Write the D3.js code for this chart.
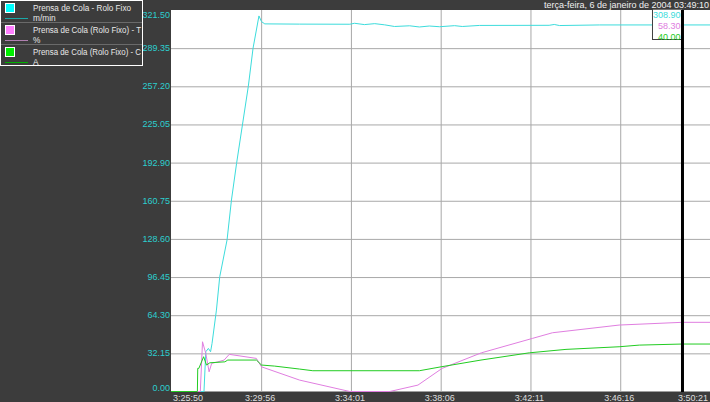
<!DOCTYPE html>
<html lang="pt">
<head>
<meta charset="UTF-8">
<title>Prensa de Cola</title>
<script src="https://d3js.org/d3.v7.min.js"></script>
<style>
    body { margin: 0; background: #3c3c3c; }
    text { font-family: "Liberation Sans", Arial, sans-serif; font-size: 9px; }
    .legend text { font-size: 8.3px; }
    .grid line { stroke: #a8a8a8; }
    .grid path { display: none; }
</style>
</head>
<body>
<script>
    const width  = 710;
    const height = 402;

    const start = "3:25:50";
    const end = "3:50:21";
    const cursorTime = "3:49:10";
    const dateLabel = "terça-feira, 6 de janeiro de 2004  03:49:10";

    const yTicks = [0, 32.15, 64.30, 96.45, 128.60, 160.75, 192.90, 225.05, 257.20, 289.35, 321.50];
    const xTicks = ["3:25:50", "3:29:56", "3:34:01", "3:38:06", "3:42:11", "3:46:16", "3:50:21"];

    const names = ["Prensa de Cola - Rolo Fixo", "Prensa de Cola (Rolo Fixo) - T", "Prensa de Cola (Rolo Fixo) - C"];
    const units = ["m/min", "%", "A"];
    const cursorValues = [308.90, 58.30, 40.00];

    const speed = [
        ["3:25:50", 0], ["3:27:20", 0], ["3:27:25", 33.5], ["3:27:32", 36.3], ["3:27:38", 33.5],
        ["3:27:42", 40.5], ["3:27:54", 68.6], ["3:28:03", 96.7], ["3:28:23", 127.7], ["3:28:35", 161.4],
        ["3:28:49", 192.3], ["3:29:07", 228.8], ["3:29:21", 257.2], ["3:29:34", 289.4], ["3:29:50", 316.5],
        ["3:29:57", 311.7], ["3:30:06", 309.8], ["3:31:41", 309.6], ["3:33:58", 309.5], ["3:34:11", 310.3],
        ["3:34:38", 309.2], ["3:35:06", 310.0], ["3:35:33", 309.0], ["3:36:00", 307.6], ["3:36:41", 308.2],
        ["3:37:08", 307.2], ["3:37:35", 308.0], ["3:38:03", 307.4], ["3:38:44", 308.3], ["3:39:05", 307.6],
        ["3:39:52", 308.5], ["3:43:02", 308.6], ["3:43:16", 309.3], ["3:43:30", 308.4], ["3:45:19", 308.9],
        ["3:49:05", 308.9], ["3:50:21", 308.9]
    ];
    const tension = [
        ["3:25:50", 0], ["3:27:10", 0], ["3:27:16", 41.9], ["3:27:25", 32.0], ["3:27:34", 16.6],
        ["3:27:41", 23.7], ["3:27:58", 25.0], ["3:28:15", 26.5], ["3:28:29", 31.3], ["3:29:43", 27.9],
        ["3:29:57", 20.8], ["3:31:41", 9.6], ["3:33:58", 0], ["3:35:47", 0], ["3:37:04", 5.4],
        ["3:38:10", 19.5], ["3:39:57", 32.6], ["3:42:17", 44.8], ["3:43:11", 49.5], ["3:46:13", 56.0],
        ["3:49:05", 58.3], ["3:50:21", 58.3]
    ];
    const current = [
        ["3:25:50", 0], ["3:27:02", 0], ["3:27:03", 19.5], ["3:27:06", 19.5], ["3:27:19", 29.3],
        ["3:27:27", 22.3], ["3:27:36", 24.2], ["3:28:17", 25.0], ["3:28:25", 26.5], ["3:29:43", 26.5],
        ["3:29:57", 22.3], ["3:30:33", 21.4], ["3:31:41", 18.9], ["3:32:17", 17.5], ["3:37:08", 17.5],
        ["3:38:07", 20.8], ["3:39:56", 26.5], ["3:42:08", 32.6], ["3:43:48", 35.5], ["3:46:13", 37.7],
        ["3:47:08", 39.1], ["3:49:05", 40.0], ["3:50:21", 40.0]
    ];

    const series = [speed, tension, current];
    const lineColors = ["#3cdcdc", "#e07ee0", "#22cc22"];
    const boxColors = ["#00ffff", "#ff80ff", "#00ee00"];
    const sampleColors = ["#1aa8a8", "#b080b0", "#00b000"];

    const parse = d3.timeParse("%H:%M:%S");

    const scaleX = d3.scaleTime()
                     .domain([parse(start), parse(end)])
                     .range([171, 710]);
    const scaleY = d3.scaleLinear()
                     .domain([0, 321.5])
                     .range([391.5, 10]);

    const svg = d3.select("body").append("svg").attr("width", width).attr("height", height);
    const defs = svg.append("defs");

    svg.append("rect").attr("width", width).attr("height", height).attr("fill", "#3c3c3c");
    svg.append("rect")
        .attr("x", 171).attr("y", 10)
        .attr("width", 710 - 171).attr("height", 391.5 - 10)
        .attr("fill", "#ffffff");

    // grid lines
    svg.append("g").attr("class", "grid")
        .attr("transform", "translate(171,0)")
        .call(d3.axisLeft(scaleY).tickValues(yTicks.slice(1, -1)).tickSize(-(710 - 171)).tickFormat(""));
    svg.append("g").attr("class", "grid")
        .attr("transform", "translate(0,391.5)")
        .call(d3.axisBottom(scaleX).tickValues(xTicks.slice(1, -1).map(parse)).tickSize(-(391.5 - 10)).tickFormat(""));

    // y labels
    svg.append("g").selectAll("text")
        .data(yTicks)
        .join("text")
        .attr("x", 170)
        .attr("y", (d, i) => scaleY(d) + (i == 0 ? -1 : i == yTicks.length - 1 ? 8 : 3))
        .attr("text-anchor", "end")
        .attr("fill", "#2ccfcf")
        .text(d => d3.format(".2f")(d));

    // x labels
    svg.append("g").selectAll("text")
        .data(xTicks)
        .join("text")
        .attr("x", (d, i) => i == 0 ? scaleX(parse(d)) + 2 : i == xTicks.length - 1 ? 708 : scaleX(parse(d)) - 1)
        .attr("y", 401)
        .attr("text-anchor", (d, i) => i == 0 ? "start" : i == xTicks.length - 1 ? "end" : "middle")
        .attr("fill", "#dcdcdc")
        .text(d => d);

    // series
    const line = d3.line()
                   .x(d => scaleX(parse(d[0])))
                   .y(d => scaleY(d[1]));

    defs.append("clipPath").attr("id", "plot")
        .append("rect").attr("x", 171).attr("y", 10).attr("width", 539).attr("height", 382);

    svg.append("g").attr("clip-path", "url(#plot)")
        .selectAll("path")
        .data(series)
        .join("path")
        .attr("d", line)
        .attr("fill", "none")
        .attr("stroke", (d, i) => lineColors[i])
        .attr("stroke-width", 1);

    // cursor
    const cx = scaleX(parse(cursorTime)) - 1.5;
    svg.append("rect")
        .attr("x", cx - 30).attr("y", 9)
        .attr("width", 30).attr("height", 30.5)
        .attr("fill", "#ffffff").attr("stroke", "#404040");
    svg.append("g").selectAll("text")
        .data(cursorValues)
        .join("text")
        .attr("x", cx - 2)
        .attr("y", (d, i) => 17.5 + i * 11)
        .attr("text-anchor", "end")
        .attr("fill", (d, i) => lineColors[i])
        .text(d => d3.format(".2f")(d));
    svg.append("line")
        .attr("x1", cx).attr("x2", cx)
        .attr("y1", 10).attr("y2", 392)
        .attr("stroke", "#000").attr("stroke-width", 3);

    // top bar
    svg.append("rect").attr("width", width).attr("height", 9.5).attr("fill", "#3c3c3c");
    svg.append("text")
        .attr("x", 709).attr("y", 8)
        .attr("text-anchor", "end")
        .attr("fill", "#f0f0f0")
        .text(dateLabel);

    // legend
    const legend = svg.append("g").attr("class", "legend");
    defs.append("clipPath").attr("id", "legclip")
        .append("rect").attr("x", 0).attr("y", 0).attr("width", 141).attr("height", 66);
    legend.append("rect")
        .attr("x", 0.5).attr("y", 0.5).attr("width", 142).attr("height", 65)
        .attr("fill", "#3c3c3c").attr("stroke", "#ffffff");
    const rows = legend.selectAll("g")
        .data(names)
        .join("g")
        .attr("transform", (d, i) => "translate(0," + (i * 22) + ")");
    rows.filter((d, i) => i > 0).append("line")
        .attr("x1", 1).attr("x2", 142).attr("y1", 0.5).attr("y2", 0.5)
        .attr("stroke", "#6a6a6a");
    rows.append("rect")
        .attr("x", 5.5).attr("y", 3.5).attr("width", 9).attr("height", 9)
        .attr("fill", (d, i) => boxColors[i]).attr("stroke", "#ffffff");
    rows.append("line")
        .attr("x1", 5).attr("x2", 28).attr("y1", 18.5).attr("y2", 18.5)
        .attr("stroke", (d, i) => sampleColors[i]);
    rows.append("text")
        .attr("x", 33).attr("y", 11)
        .attr("fill", "#e8e8e8")
        .attr("textLength", (d, i) => i == 0 ? 98 : 108)
        .attr("lengthAdjust", "spacingAndGlyphs")
        .text(d => d);
    rows.append("text")
        .attr("x", 33).attr("y", 20.5)
        .attr("fill", "#e8e8e8")
        .text((d, i) => units[i]);
</script>
</body>
</html>
